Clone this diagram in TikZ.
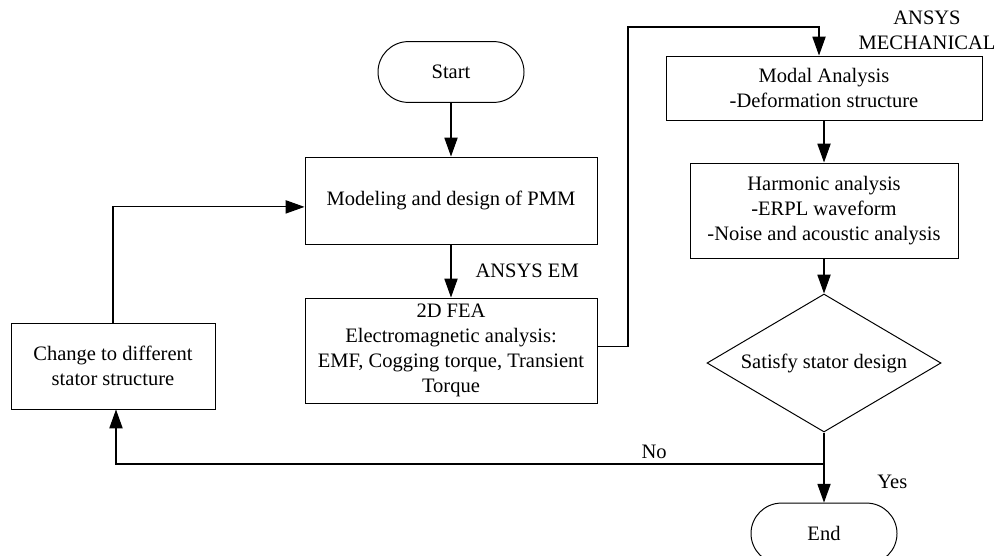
\documentclass[tikz,border=0pt]{standalone}
\usepackage{fontspec}
\setmainfont{Liberation Serif}
\usetikzlibrary{arrows.meta, positioning, calc, shapes.geometric}
\newcommand{\flowfont}{\fontsize{14.6}{17.8}\selectfont}
\tikzset{
  % plain rectangular process box
  box/.style={
    draw, line width=0.7pt, align=center, inner sep=2pt, font=\flowfont
  },
  % start / end with round ends
  terminal/.style={box, rounded corners=7.6mm, minimum width=36.5mm, minimum height=15.2mm},
  % the yes/no check
  decision/.style={box, diamond, aspect=1.7, inner sep=0pt,
                   minimum width=58.5mm, minimum height=34.5mm},
  % arrows
  flow/.style={-{Triangle[length=4.7mm,width=3.3mm]}, line width=0.8pt},
  % loose text beside the arrows
  tag/.style={font=\flowfont, inner sep=2pt},
}

\begin{document}
\begin{tikzpicture}
\useasboundingbox (0,0) rectangle (24.95,13.875);

% ---------------------------------------------------------------
% left column: electromagnetic design
% ---------------------------------------------------------------
\node[terminal] (start) at (11.275,12.075) {Start};

\node[box, minimum width=73mm, minimum height=21.75mm] (model) at (11.275,8.8625)
      {Modeling and design of PMM};

\node[box, minimum width=73mm, minimum height=26.25mm] (fea) at (11.275,5.1125)
      {2D FEA\\Electromagnetic analysis:\\EMF, Cogging torque, Transient\\Torque};

\node[box, minimum width=51mm, minimum height=21.5mm] (change) at (2.825,4.725)
      {Change to different\\stator structure};

% ---------------------------------------------------------------
% right column: mechanical / acoustic check
% ---------------------------------------------------------------
\node[box, minimum width=79mm, minimum height=16mm] (modal) at (20.6,11.675)
      {Modal Analysis\\-Deformation structure};
\node[tag, align=center] (mech) at (23.175,13.125) {ANSYS\\MECHANICAL};

\node[box, minimum width=67mm, minimum height=23.75mm] (harm) at (20.6,8.6125)
      {Harmonic analysis\\-ERPL waveform\\-Noise and acoustic analysis};

\node[decision] (check) at (20.6,4.8) {Satisfy stator design};

\node[terminal] (end) at (20.6,0.5375) {End};

% ---------------------------------------------------------------
% arrows
% ---------------------------------------------------------------
\draw[flow] (start) -- (model);
\draw[flow] (model) -- (fea) node[tag, midway, right=5.3mm] {ANSYS EM};

\coordinate (turn) at (15.7,13.2);
\draw[flow] ([yshift=1.1mm]fea.east) -| (turn) -| ([xshift=-1.25mm]modal.north);

\draw[flow] (modal) -- (harm);
\draw[flow] (harm) -- (check);
\draw[flow] (check) -- (end) node[tag, pos=0.7, right=12.5mm] {Yes};

% back to the start of the loop when the check fails
\coordinate (split) at (check.south |- 0,2.275);
\draw[flow] (split) -| ([xshift=0.75mm]change.south)
      node[tag, pos=0.12, above=0.5mm] {No};
\draw[flow] (change.north) |- ([yshift=-1.6mm]model.west);

\end{tikzpicture}
\end{document}
